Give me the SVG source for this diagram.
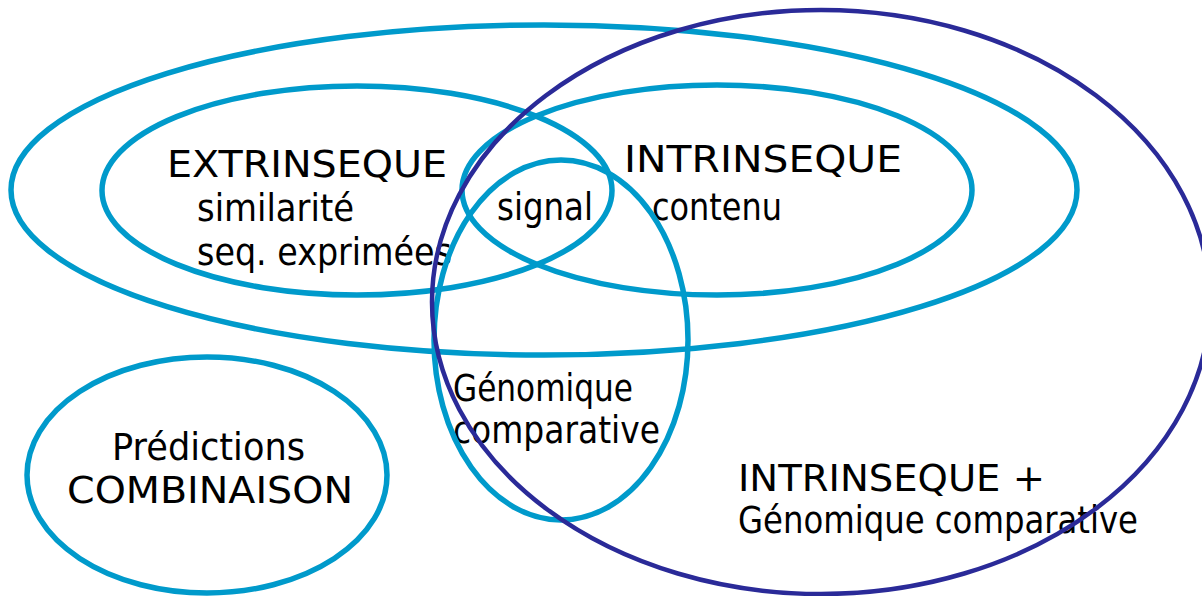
<svg xmlns="http://www.w3.org/2000/svg" width="1202" height="596" viewBox="0 0 1202 596">
  <style>
    .light { fill: none; stroke: #009ACB; stroke-width: 5.5; }
    .dark { fill: none; stroke: #2A2A98; stroke-width: 4.5; }
    .lbl { font-family: "DejaVu Sans", "Liberation Sans", sans-serif; font-size: 37px; fill: #000; }
  </style>
  <rect width="1202" height="596" fill="#fff"/>
  <g id="connectors"/>
  <g id="node-outer">
    <ellipse class="light" cx="544" cy="190" rx="533" ry="165"/>
  </g>
  <g id="node-extrinseque">
    <text class="lbl" x="167" y="177" textLength="280" lengthAdjust="spacingAndGlyphs">EXTRINSEQUE</text>
    <text class="lbl" x="197" y="221" textLength="157" lengthAdjust="spacingAndGlyphs">similarité</text>
    <text class="lbl" x="197" y="265" textLength="255" lengthAdjust="spacingAndGlyphs">seq. exprimées</text>
    <ellipse class="light" cx="357" cy="190.5" rx="255" ry="104.5"/>
  </g>
  <g id="node-intrinseque">
    <text class="lbl" x="624" y="172" textLength="278" lengthAdjust="spacingAndGlyphs">INTRINSEQUE</text>
    <text class="lbl" x="652" y="220" textLength="130" lengthAdjust="spacingAndGlyphs">contenu</text>
    <ellipse class="light" cx="717" cy="190" rx="255" ry="105"/>
  </g>
  <g id="node-signal">
    <text class="lbl" x="497" y="220" textLength="96" lengthAdjust="spacingAndGlyphs">signal</text>
  </g>
  <g id="node-genomique">
    <text class="lbl" x="453" y="401" textLength="180" lengthAdjust="spacingAndGlyphs">Génomique</text>
    <text class="lbl" x="453" y="443" textLength="207" lengthAdjust="spacingAndGlyphs">comparative</text>
    <ellipse class="light" cx="561" cy="340" rx="127" ry="180"/>
  </g>
  <g id="node-predictions">
    <text class="lbl" x="112" y="460" textLength="193" lengthAdjust="spacingAndGlyphs">Prédictions</text>
    <text class="lbl" x="67" y="503" textLength="286" lengthAdjust="spacingAndGlyphs">COMBINAISON</text>
    <ellipse class="light" cx="207" cy="475" rx="180" ry="118"/>
  </g>
  <g id="node-intrinseque-genomique">
    <text class="lbl" x="738" y="491" textLength="307" lengthAdjust="spacingAndGlyphs">INTRINSEQUE +</text>
    <text class="lbl" x="738" y="533" textLength="400" lengthAdjust="spacingAndGlyphs">Génomique comparative</text>
    <ellipse class="dark" cx="821" cy="302" rx="389" ry="292"/>
  </g>
</svg>
